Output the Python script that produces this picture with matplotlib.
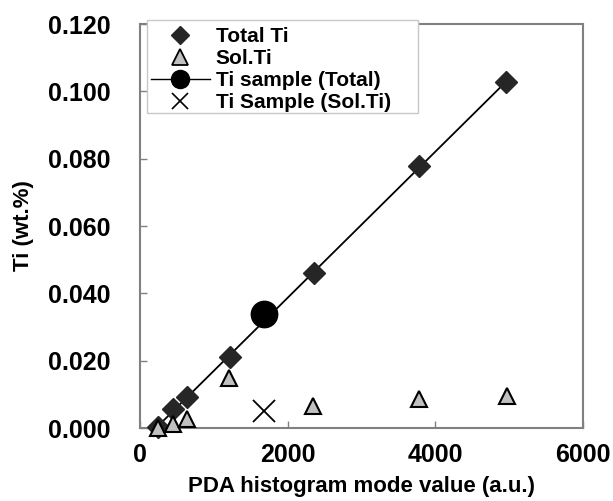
import numpy as np
import matplotlib
matplotlib.use("Agg")
import matplotlib.pyplot as plt
from matplotlib.lines import Line2D
from matplotlib.patches import Rectangle

plt.rcParams['font.family'] = ['Liberation Sans', 'DejaVu Sans']
plt.rcParams['font.weight'] = 'bold'

# Data
total_x = [240, 445, 635, 1215, 2360, 3785, 4955]
total_y = [0.0004, 0.0055, 0.0092, 0.0212, 0.0460, 0.0778, 0.1028]
sol_x = [248, 452, 633, 1210, 2345, 3785, 4970]
sol_y = [0.0000, 0.0012, 0.0027, 0.0150, 0.0066, 0.0085, 0.0095]
sample_total_x = [1685]
sample_total_y = [0.0340]
sample_sol_x = [1685]
sample_sol_y = [0.0050]

xticks = [0, 2000, 4000, 6000]
yticks = [0.000, 0.020, 0.040, 0.060, 0.080, 0.100, 0.120]
labels = ["Total Ti", "Sol.Ti", "Ti sample (Total)", "Ti Sample (Sol.Ti)"]

fig = plt.figure(figsize=(6.13, 5.01), dpi=100)
ax = fig.add_axes([140/613, 1-428/501, (583-140)/613, (428-24)/501])

# Linear trend through total Ti
coef = np.polyfit(total_x, total_y, 1)
lx = np.array([min(total_x), max(total_x)])
ax.plot(lx, np.polyval(coef, lx), color='black', lw=1.3, zorder=2)

ax.plot(total_x, total_y, 'D', color='#262626', markersize=11, zorder=3, clip_on=False)
ax.plot(sol_x, sol_y, '^', markerfacecolor='#c0c0c0', markeredgecolor='black',
        markeredgewidth=1.5, markersize=11, zorder=4, clip_on=False)
ax.plot(sample_total_x, sample_total_y, 'o', color='black', markersize=19, zorder=5)
ax.plot(sample_sol_x, sample_sol_y, 'x', color='black', markersize=16,
        markeredgewidth=1.3, zorder=5)

ax.set_xlim(0, 6000)
ax.set_ylim(0, 0.120)
ax.set_xticks(xticks)
ax.set_yticks(yticks)
ax.set_yticklabels([f"{v:.3f}" for v in yticks])
ax.tick_params(direction='in', length=5, color='#808080', labelsize=18, width=1)
for lab in ax.get_xticklabels() + ax.get_yticklabels():
    lab.set_fontweight('bold')
ax.tick_params(axis='x', pad=11)
ax.tick_params(axis='y', pad=21)
for s in ax.spines.values():
    s.set_color('#808080')
    s.set_linewidth(1.5)

ax.set_xlabel("PDA histogram mode value (a.u.)", fontsize=16, fontweight='bold')
ax.xaxis.set_label_coords(0.5, -(476 - 428) / 404, transform=ax.transAxes)
ax.xaxis.label.set_va('top')
ax.set_ylabel("Ti (wt.%)", fontsize=16, fontweight='bold')
ax.yaxis.set_label_coords((24 - 140) / 443, 0.5)
ax.yaxis.label.set_va('center')

# Legend frame box (covers the top spine like the reference)
W, H = 613, 501
frame = Rectangle((147/W, 1-113/H), (418-147)/W, (113-20)/H, transform=fig.transFigure,
                  facecolor='white', edgecolor='#c8c8c8', linewidth=1.0, zorder=4)
fig.patches.append(frame)

handles = [
    Line2D([], [], ls='none', marker='D', color='#262626', markersize=9),
    Line2D([], [], ls='none', marker='^', markerfacecolor='#c0c0c0',
           markeredgecolor='black', markeredgewidth=1.3, markersize=11),
    Line2D([], [], ls='-', color='black', lw=1, marker='o', markersize=13),
    Line2D([], [], ls='none', marker='x', color='black', markersize=12, markeredgewidth=1.2),
]
leg = fig.legend(handles, labels, loc='upper left', bbox_to_anchor=(147/W, 1-23/H),
                 borderaxespad=0, frameon=False,
                 handlelength=2.8, handletextpad=0.3, labelspacing=0.14,
                 borderpad=0.2, prop={'weight': 'bold', 'size': 15})
leg.set_zorder(5)

fig.savefig("out.png", dpi=100)
